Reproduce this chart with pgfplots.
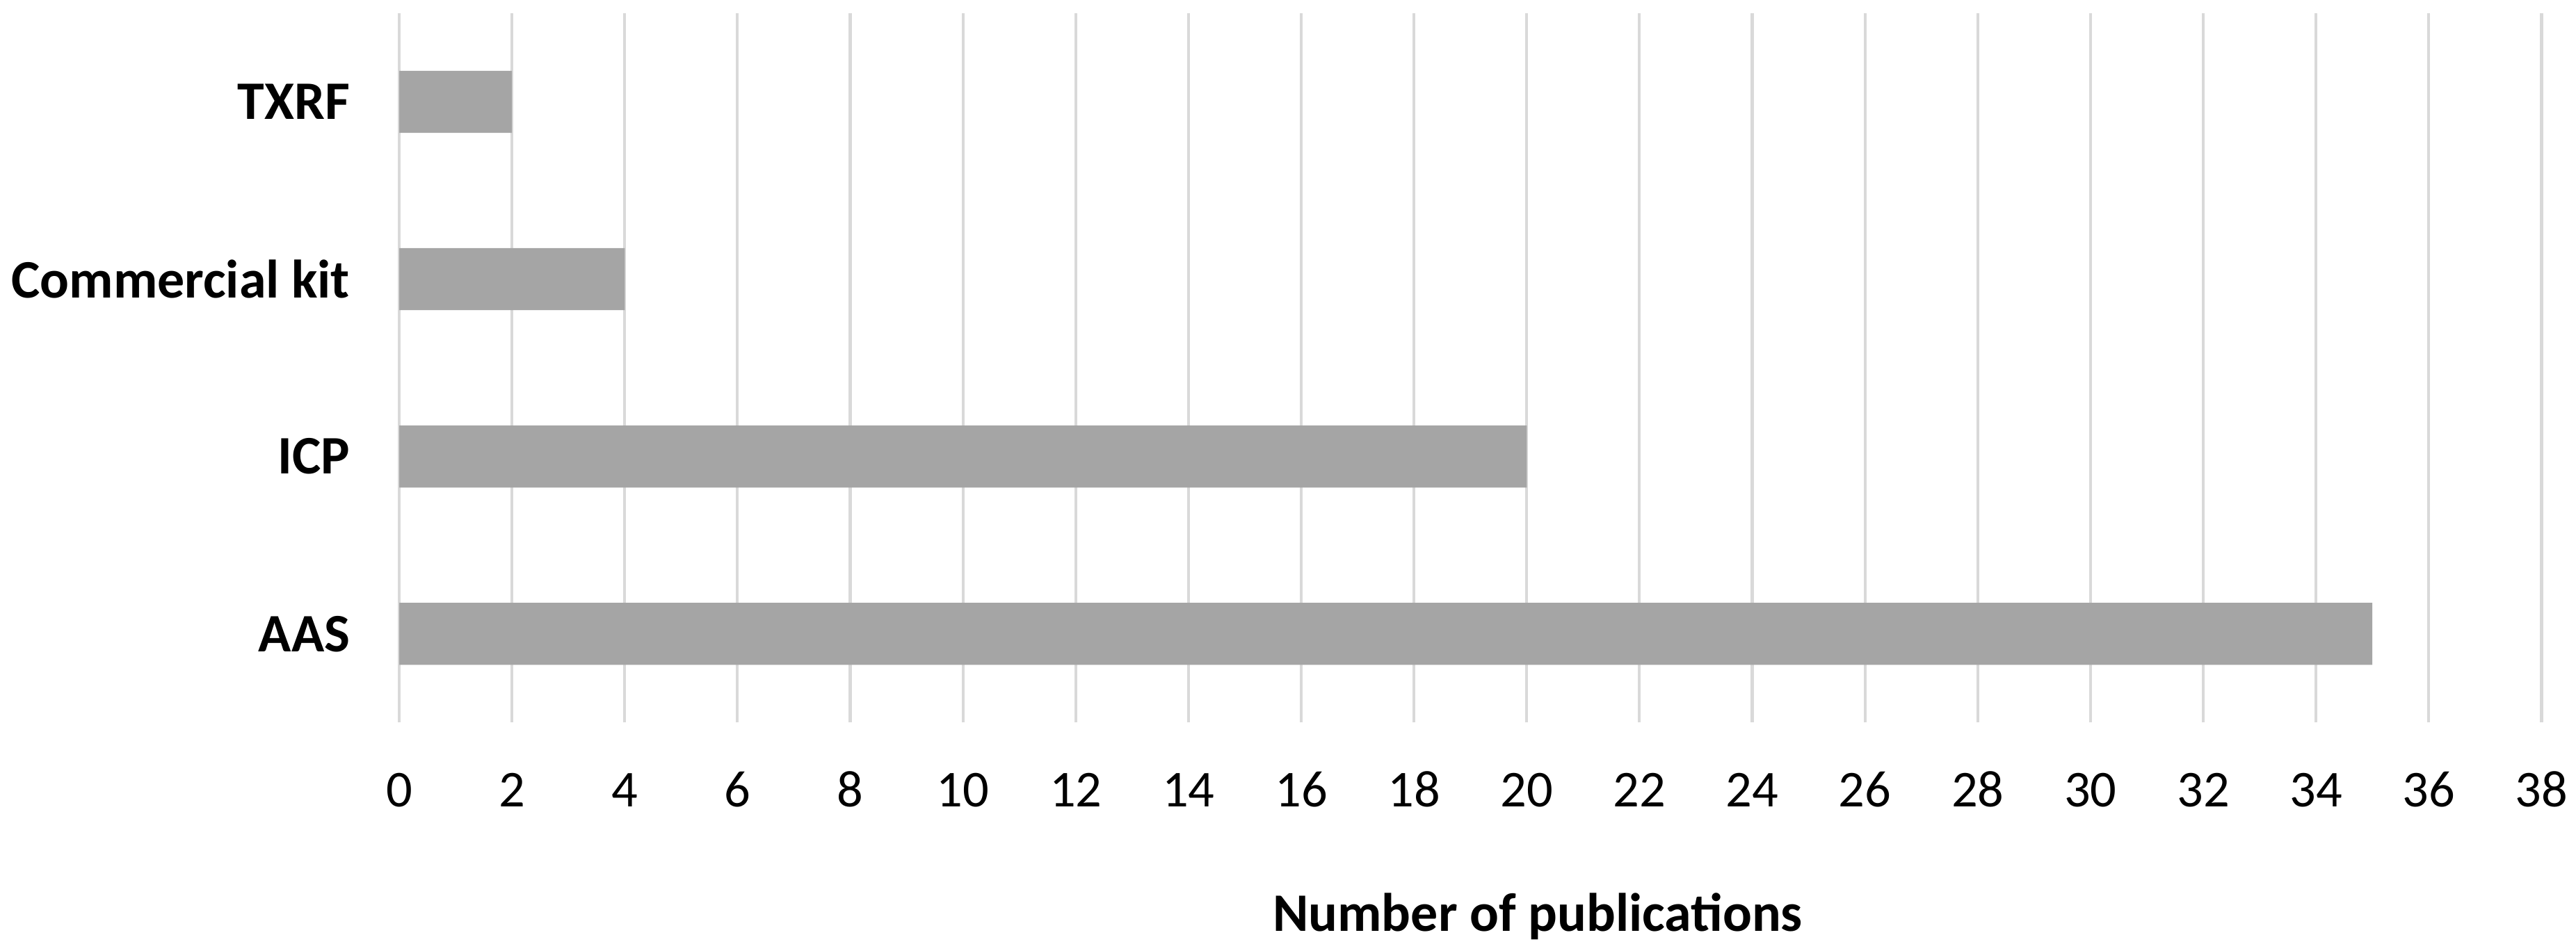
\documentclass[border=0pt]{standalone}
\usepackage{fontspec}
\setmainfont{Carlito}
\usepackage{pgfplots}
\pgfplotsset{compat=1.18}

\definecolor{barc}{HTML}{A5A5A5}
\definecolor{gridc}{HTML}{D9D9D9}

\begin{document}
\begin{tikzpicture}
\begin{axis}[
    scale only axis,
    width=521.6pt,
    height=172.8pt,
    xbar,
    bar width=0.35,
    xmin=0, xmax=38,
    ymin=-0.5, ymax=3.5,
    xtick={0,2,...,38},
    ytick={0,1,2,3},
    yticklabels={AAS,ICP,Commercial kit,TXRF},
    axis line style={draw=none},
    tick style={draw=none},
    xmajorgrids,
    grid style={draw=gridc, line width=0.7pt},
    /pgf/number format/assume math mode=true,
    xticklabel style={font=\fontsize{12.6}{14}\selectfont, text height=8pt, text depth=0pt, yshift=-9pt},
    yticklabel style={font=\fontsize{13.2}{15}\selectfont\bfseries, xshift=-4.2pt},
    xlabel={Number of publications},
    xlabel style={font=\fontsize{13.2}{15}\selectfont\bfseries,
        at={(axis description cs:0.5,0)}, anchor=center, xshift=16.4pt, yshift=-47.2pt},
]
% publications per method
\addplot[fill=barc, draw=none] coordinates {
    (35,0)
    (20,1)
    (4,2)
    (2,3)
};
\end{axis}
\pgfresetboundingbox
\path ([shift={(-97.2pt,-55.6pt)}]current axis.south west) rectangle ([shift={(8.4pt,3.2pt)}]current axis.north east);
\end{tikzpicture}
\end{document}
